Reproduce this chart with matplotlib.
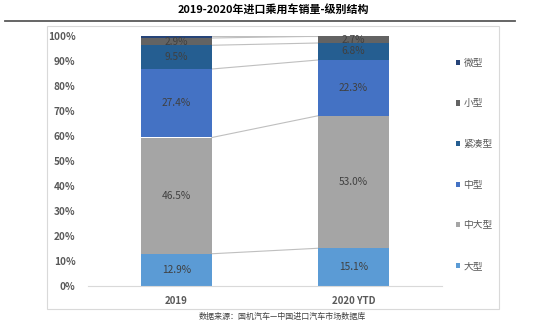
import matplotlib
matplotlib.use("Agg")
import matplotlib.pyplot as plt
from matplotlib.patches import Rectangle, Patch
from matplotlib.lines import Line2D
import numpy as np

plt.rcParams['font.family'] = ['Noto Sans CJK SC', 'DejaVu Sans']

categories = ["2019", "2020 YTD"]
series_names = ["大型", "中大型", "中型", "紧凑型", "小型", "微型"]
values = {
    "大型":   [12.9, 15.1],
    "中大型": [46.5, 53.0],
    "中型":   [27.4, 22.3],
    "紧凑型": [9.5, 6.8],
    "小型":   [2.9, 2.7],
    "微型":   [0.8, 0.1],
}
colors = {
    "大型": "#5B9BD5",
    "中大型": "#A5A5A5",
    "中型": "#4472C4",
    "紧凑型": "#255E91",
    "小型": "#636363",
    "微型": "#264478",
}
show_label = {"大型": True, "中大型": True, "中型": True, "紧凑型": True, "小型": True, "微型": False}
title = "2019-2020年进口乘用车销量-级别结构"
source = "数据来源：国机汽车—中国进口汽车市场数据库"

W, H = 550, 326
fig = plt.figure(figsize=(W / 100, H / 100), dpi=100)

# outer box and title rule
fig.add_artist(Rectangle((47 / W, 1 - 309 / H), (499 - 47) / W, (309 - 26) / H,
                         transform=fig.transFigure, fill=False, edgecolor="#D9D9D9", lw=0.8))
fig.add_artist(Line2D([5 / W, 515 / W], [1 - 21 / H, 1 - 21 / H], transform=fig.transFigure,
                      color="#595959", lw=1.3))
fig.text(273 / W, 1 - 10 / H, title, ha="center", va="center", fontsize=7.9, fontweight="bold", color="#000000")
fig.text(282 / W, 1 - 316 / H, source, ha="center", va="center", fontsize=5.8, color="#404040")

ax = fig.add_axes([88 / W, 40 / H, 354 / W, 250 / H])
x = np.arange(len(categories))
bw = 0.4
bottom = np.zeros(len(categories))
handles = []
for name in series_names:
    vals = np.array(values[name]) / 100.0
    ax.bar(x, vals, bw, bottom=bottom, color=colors[name], edgecolor="none", zorder=2)
    if show_label[name]:
        for xi, v, b in zip(x, vals, bottom):
            ax.text(xi, b + v / 2, f"{v*100:.1f}%", ha="center", va="center", fontsize=7.3, color="#404040", zorder=3)
    top = bottom + vals
    # series connecting lines
    ax.plot([x[0] + bw / 2, x[1] - bw / 2], [top[0], top[1]], color="#BFBFBF", lw=0.8, zorder=1)
    bottom = top
    handles.append(Patch(facecolor=colors[name], edgecolor="none", label=name))

ax.set_xlim(-0.5, 1.5)
ax.set_ylim(0, 1.0)
ax.set_xticks(x)
ax.set_xticklabels(categories, fontsize=7, fontweight="bold", color="#595959")
yt = np.arange(0, 1.01, 0.1)
ax.set_yticks(yt)
ax.set_yticklabels([f"{int(round(t*100))}%" for t in yt], fontsize=7.2, fontweight="bold", color="#595959")
ax.tick_params(axis="both", length=0)
ax.tick_params(axis="x", pad=7)
ax.tick_params(axis="y", pad=9)
for s in ["top", "right", "left"]:
    ax.spines[s].set_visible(False)
ax.spines["bottom"].set_color("#D9D9D9")
ax.spines["bottom"].set_linewidth(0.8)

fig.legend(handles=handles[::-1], loc="upper left", bbox_to_anchor=(447 / W, 1 - 49 / H),
           frameon=False, fontsize=7, labelspacing=3.15, handlelength=0.45, handleheight=0.45,
           handletextpad=0.35, labelcolor="#595959")

fig.savefig("out.png", dpi=100)
